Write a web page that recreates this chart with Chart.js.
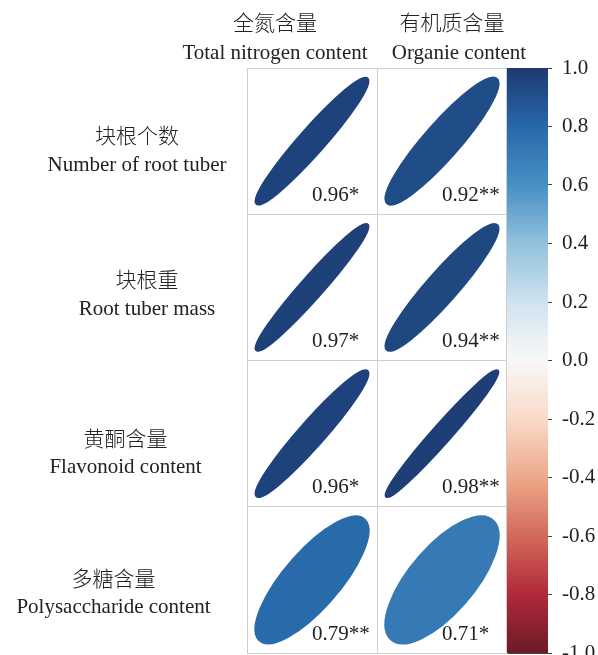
<!DOCTYPE html>
<html>
<head>
<meta charset="utf-8">
<title>相关性椭圆图</title>
<script src="https://cdn.jsdelivr.net/npm/chart.js@4/dist/chart.umd.min.js"></script>
<style>
  html, body { margin: 0; padding: 0; background: #ffffff; }
  canvas { display: block; }
</style>
</head>
<body>
<canvas id="corr" width="598" height="655"></canvas>
<script>
// Row variables (tuber traits)
const rowLabelsZh = ['块根个数', '块根重', '黄酮含量', '多糖含量'];
const rowLabelsEn = ['Number of root tuber', 'Root tuber mass', 'Flavonoid content', 'Polysaccharide content'];

// Column variables (soil properties)
const colLabelsZh = ['全氮含量', '有机质含量'];
const colLabelsEn = ['Total nitrogen content', 'Organie content'];

// Correlation coefficients, one entry per row
const totalNitrogenR = [0.96, 0.97, 0.96, 0.79];
const organicR = [0.92, 0.94, 0.98, 0.71];

// Significance marks, one entry per row
const totalNitrogenSig = ['*', '*', '*', '**'];
const organicSig = ['**', '**', '**', '*'];

// Colour bar range
const colorbarMin = -1;
const colorbarMax = 1;
const colorbarStep = 0.2;

// ---- styling / layout ----
const TEXT = '#222222';
const GRID = '#cfcfcf';
const SERIF = '"Liberation Serif", "Times New Roman", serif';
const CJK = '"Noto Sans CJK SC", sans-serif';

// diverging red-white-blue ramp
const rampStops = [
  [-1.0, [107, 27, 39]],
  [-0.8, [177, 40, 58]],
  [-0.6, [210, 106, 90]],
  [-0.4, [237, 169, 138]],
  [-0.2, [249, 218, 200]],
  [ 0.0, [248, 248, 248]],
  [ 0.2, [207, 227, 239]],
  [ 0.4, [146, 193, 220]],
  [ 0.6, [71, 144, 195]],
  [ 0.8, [39, 104, 170]],
  [ 1.0, [28, 58, 112]]
];

function rampColor(v) {
  v = Math.max(-1, Math.min(1, v));
  for (let i = 0; i < rampStops.length - 1; i++) {
    const [a, ca] = rampStops[i];
    const [b, cb] = rampStops[i + 1];
    if (v >= a && v <= b) {
      const t = (v - a) / (b - a);
      const c = ca.map((x, k) => Math.round(x + (cb[k] - x) * t));
      return `rgb(${c[0]},${c[1]},${c[2]})`;
    }
  }
  const c = rampStops[rampStops.length - 1][1];
  return `rgb(${c[0]},${c[1]},${c[2]})`;
}

// label placement relative to column / row centres
const colHeaderShiftZh = [-37, 10];
const colHeaderShiftEn = [-37, 17];
const rowLabelCenterX = [137, 147, 125.5, 113.5];
const rowLabelShiftZh = [-6, -8, 4.5, -2];
const rowLabelShiftEn = [24, 22, 33.5, 28];
const ellipseFill = 0.855;

// build one point per cell
const cells = [];
rowLabelsEn.forEach((_, i) => {
  cells.push({ x: 0.5, y: i + 0.5, r: totalNitrogenR[i], sig: totalNitrogenSig[i] });
  cells.push({ x: 1.5, y: i + 0.5, r: organicR[i], sig: organicSig[i] });
});

// ellipses whose elongation follows the coefficient
const ellipsePlugin = {
  id: 'corrEllipses',
  afterDatasetsDraw(chart) {
    const { ctx, scales: { x, y } } = chart;
    const cw = Math.abs(x.getPixelForValue(1) - x.getPixelForValue(0));
    const ch = Math.abs(y.getPixelForValue(1) - y.getPixelForValue(0));
    const meta = chart.getDatasetMeta(0);
    meta.data.forEach((el, i) => {
      const d = cells[i];
      const col = rampColor(d.r);
      ctx.save();
      ctx.translate(el.x, el.y);
      ctx.scale(cw / 2 * ellipseFill, ch / 2 * ellipseFill);
      ctx.rotate(d.r >= 0 ? -Math.PI / 4 : Math.PI / 4);
      ctx.beginPath();
      ctx.ellipse(0, 0, Math.sqrt(1 + Math.abs(d.r)), Math.sqrt(1 - Math.abs(d.r)), 0, 0, Math.PI * 2);
      ctx.restore();
      ctx.save();
      ctx.fillStyle = col;
      ctx.strokeStyle = col;
      ctx.lineWidth = 4;
      ctx.lineJoin = 'round';
      ctx.fill();
      ctx.stroke();
      ctx.restore();

      // coefficient text
      ctx.save();
      ctx.font = `21px ${SERIF}`;
      ctx.fillStyle = TEXT;
      ctx.textAlign = 'left';
      ctx.textBaseline = 'middle';
      ctx.fillText(d.r.toFixed(2) + d.sig, el.x, el.y + ch * 0.37);
      ctx.restore();
    });
  }
};

// row / column titles and the colour bar
const annotationPlugin = {
  id: 'corrAnnotations',
  afterDraw(chart) {
    const { ctx, scales: { x, y, cb } } = chart;
    ctx.save();
    ctx.fillStyle = TEXT;
    ctx.textBaseline = 'middle';
    ctx.textAlign = 'center';

    colLabelsZh.forEach((t, j) => {
      const cx = x.getPixelForValue(j + 0.5);
      ctx.font = `300 21px ${CJK}`;
      ctx.fillText(t, cx + colHeaderShiftZh[j], 22);
      ctx.font = `21px ${SERIF}`;
      ctx.fillText(colLabelsEn[j], cx + colHeaderShiftEn[j], 53);
    });

    rowLabelsZh.forEach((t, i) => {
      const cy = y.getPixelForValue(i + 0.5);
      ctx.font = `300 21px ${CJK}`;
      ctx.fillText(t, rowLabelCenterX[i], cy + rowLabelShiftZh[i]);
      ctx.font = `21px ${SERIF}`;
      ctx.fillText(rowLabelsEn[i], rowLabelCenterX[i], cy + rowLabelShiftEn[i]);
    });

    // colour bar body, laid over the inner part of the tick marks
    const top = cb.getPixelForValue(colorbarMax);
    const bottom = cb.getPixelForValue(colorbarMin);
    const left = Math.round(cb.left);
    const grad = ctx.createLinearGradient(0, bottom, 0, top);
    rampStops.forEach(([v, c]) => {
      grad.addColorStop((v - colorbarMin) / (colorbarMax - colorbarMin), `rgb(${c[0]},${c[1]},${c[2]})`);
    });
    ctx.fillStyle = grad;
    ctx.fillRect(left - 1, top, 42, bottom - top);

    // restore the outer cell border next to the bar
    ctx.strokeStyle = GRID;
    ctx.lineWidth = 1;
    ctx.beginPath();
    ctx.moveTo(left - 0.5, top);
    ctx.lineTo(left - 0.5, bottom);
    ctx.stroke();

    // tick labels
    ctx.fillStyle = TEXT;
    ctx.font = `21px ${SERIF}`;
    ctx.textAlign = 'left';
    cb.ticks.forEach((tk, i) => {
      let v = Math.round(tk.value * 10) / 10;
      if (Object.is(v, -0)) v = 0;
      ctx.fillText(v.toFixed(1), cb.right + 10, cb.getPixelForTick(i));
    });
    ctx.restore();
  }
};

new Chart(document.getElementById('corr'), {
  type: 'scatter',
  data: {
    datasets: [{
      data: cells,
      pointRadius: 0,
      pointHoverRadius: 0,
      pointHitRadius: 0
    }]
  },
  options: {
    responsive: false,
    animation: false,
    devicePixelRatio: 1,
    events: [],
    layout: { padding: { left: 247, top: 68, right: 46, bottom: 2 } },
    plugins: { legend: { display: false }, tooltip: { enabled: false } },
    scales: {
      x: {
        type: 'linear', min: 0, max: 2,
        ticks: { display: false, stepSize: 1 },
        grid: { color: GRID, lineWidth: 1, drawTicks: false },
        border: { color: GRID }
      },
      y: {
        type: 'linear', min: 0, max: 4, reverse: true,
        ticks: { display: false, stepSize: 1 },
        grid: { color: GRID, lineWidth: 1, drawTicks: false },
        border: { color: GRID }
      },
      cb: {
        type: 'linear', position: 'right', min: colorbarMin, max: colorbarMax,
        ticks: { display: false, stepSize: colorbarStep },
        grid: { drawOnChartArea: false, drawTicks: true, tickLength: 45, tickColor: '#444444', tickWidth: 1 },
        border: { display: false }
      }
    }
  },
  plugins: [ellipsePlugin, annotationPlugin]
});
</script>
</body>
</html>
